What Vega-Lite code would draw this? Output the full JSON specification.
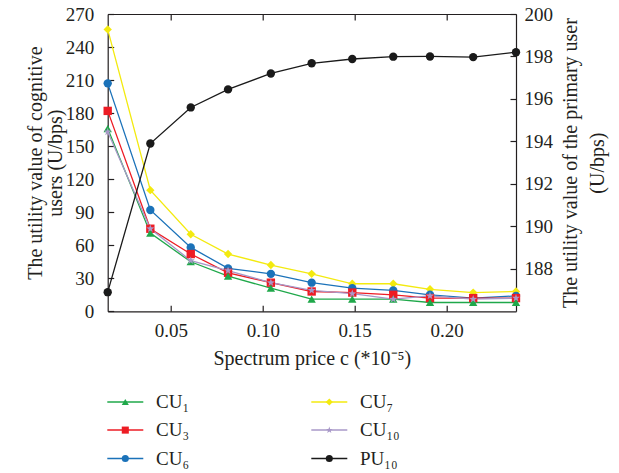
{
  "$schema": "https://vega.github.io/schema/vega-lite/v6.json",
  "width": 408.3,
  "height": 297.3,
  "autosize": {"type": "none"},
  "padding": {"left": 107.7, "top": 14, "right": 103, "bottom": 161.7},
  "background": "white",
  "config": {
    "view": {"stroke": null},
    "font": "Liberation Serif",
    "axis": {
      "grid": false,
      "domainColor": "#231f20",
      "tickColor": "#231f20",
      "domainWidth": 1.2,
      "tickWidth": 1.2,
      "tickSize": -6,
      "labelFont": "Liberation Serif",
      "labelFontSize": 19,
      "labelColor": "#231f20",
      "titleFont": "Liberation Serif",
      "titleFontSize": 20,
      "titleFontWeight": "normal",
      "titleColor": "#231f20"
    },
    "legend": {
      "labelFont": "Liberation Serif",
      "labelFontSize": 19,
      "labelColor": "#231f20",
      "padding": 0
    }
  },
  "datasets": {
    "cu": [
      {"x": 0.0156, "v": 256, "series": "CU₇"},
      {"x": 0.0388, "v": 110, "series": "CU₇"},
      {"x": 0.0608, "v": 70, "series": "CU₇"},
      {"x": 0.0811, "v": 52, "series": "CU₇"},
      {"x": 0.1044, "v": 42, "series": "CU₇"},
      {"x": 0.1266, "v": 34, "series": "CU₇"},
      {"x": 0.1487, "v": 25, "series": "CU₇"},
      {"x": 0.1710, "v": 25, "series": "CU₇"},
      {"x": 0.1910, "v": 20, "series": "CU₇"},
      {"x": 0.2145, "v": 17, "series": "CU₇"},
      {"x": 0.2378, "v": 18, "series": "CU₇"},
      {"x": 0.0156, "v": 207, "series": "CU₆"},
      {"x": 0.0388, "v": 92, "series": "CU₆"},
      {"x": 0.0608, "v": 58, "series": "CU₆"},
      {"x": 0.0811, "v": 39, "series": "CU₆"},
      {"x": 0.1044, "v": 34, "series": "CU₆"},
      {"x": 0.1266, "v": 26, "series": "CU₆"},
      {"x": 0.1487, "v": 21, "series": "CU₆"},
      {"x": 0.1710, "v": 19, "series": "CU₆"},
      {"x": 0.1910, "v": 15, "series": "CU₆"},
      {"x": 0.2145, "v": 12, "series": "CU₆"},
      {"x": 0.2378, "v": 14, "series": "CU₆"},
      {"x": 0.0156, "v": 182, "series": "CU₃"},
      {"x": 0.0388, "v": 75, "series": "CU₃"},
      {"x": 0.0608, "v": 52, "series": "CU₃"},
      {"x": 0.0811, "v": 35, "series": "CU₃"},
      {"x": 0.1044, "v": 26, "series": "CU₃"},
      {"x": 0.1266, "v": 18, "series": "CU₃"},
      {"x": 0.1487, "v": 17, "series": "CU₃"},
      {"x": 0.1710, "v": 15, "series": "CU₃"},
      {"x": 0.1910, "v": 12, "series": "CU₃"},
      {"x": 0.2145, "v": 12, "series": "CU₃"},
      {"x": 0.2378, "v": 12, "series": "CU₃"},
      {"x": 0.0156, "v": 166, "series": "CU₁"},
      {"x": 0.0388, "v": 71, "series": "CU₁"},
      {"x": 0.0608, "v": 45, "series": "CU₁"},
      {"x": 0.0811, "v": 32, "series": "CU₁"},
      {"x": 0.1044, "v": 21, "series": "CU₁"},
      {"x": 0.1266, "v": 11, "series": "CU₁"},
      {"x": 0.1487, "v": 11, "series": "CU₁"},
      {"x": 0.1710, "v": 11, "series": "CU₁"},
      {"x": 0.1910, "v": 8, "series": "CU₁"},
      {"x": 0.2145, "v": 8, "series": "CU₁"},
      {"x": 0.2378, "v": 8, "series": "CU₁"},
      {"x": 0.0156, "v": 163, "series": "CU₁₀"},
      {"x": 0.0388, "v": 75, "series": "CU₁₀"},
      {"x": 0.0608, "v": 46, "series": "CU₁₀"},
      {"x": 0.0811, "v": 37, "series": "CU₁₀"},
      {"x": 0.1044, "v": 26, "series": "CU₁₀"},
      {"x": 0.1266, "v": 19, "series": "CU₁₀"},
      {"x": 0.1487, "v": 16, "series": "CU₁₀"},
      {"x": 0.1710, "v": 11, "series": "CU₁₀"},
      {"x": 0.1910, "v": 14, "series": "CU₁₀"},
      {"x": 0.2145, "v": 11, "series": "CU₁₀"},
      {"x": 0.2378, "v": 12, "series": "CU₁₀"}
    ],
    "pu": [
      {"x": 0.0156, "v": 186.9, "series": "PU₁₀"},
      {"x": 0.0388, "v": 193.9, "series": "PU₁₀"},
      {"x": 0.0608, "v": 195.6, "series": "PU₁₀"},
      {"x": 0.0811, "v": 196.45, "series": "PU₁₀"},
      {"x": 0.1044, "v": 197.2, "series": "PU₁₀"},
      {"x": 0.1266, "v": 197.68, "series": "PU₁₀"},
      {"x": 0.1487, "v": 197.88, "series": "PU₁₀"},
      {"x": 0.1710, "v": 197.99, "series": "PU₁₀"},
      {"x": 0.1910, "v": 198.0, "series": "PU₁₀"},
      {"x": 0.2145, "v": 197.97, "series": "PU₁₀"},
      {"x": 0.2378, "v": 198.2, "series": "PU₁₀"}
    ]
  },
  "layer": [
    {
      "data": {"name": "cu"},
      "encoding": {
        "x": {
          "field": "x", "type": "quantitative",
          "scale": {"domain": [0.0156, 0.2378], "nice": false, "zero": false},
          "axis": {"orient": "bottom", "values": [0.05, 0.1, 0.15, 0.2], "format": ".2f", "labelPadding": 16, "title": "Spectrum price c (*10⁻⁵)", "titlePadding": 8}
        },
        "y": {
          "field": "v", "type": "quantitative",
          "scale": {"domain": [0, 270], "nice": false, "zero": false},
          "axis": {"orient": "left", "values": [0, 30, 60, 90, 120, 150, 180, 210, 240, 270], "labelPadding": 20, "title": ["The utility value of cognitive", "users (U/bps)"], "titleLineHeight": 20, "titleAngle": 270, "titleBaseline": "middle", "titleAlign": "center", "titleX": -72.7, "titleY": 148.6}
        }
      },
      "layer": [
        {
          "mark": {"type": "line", "strokeWidth": 1.3},
          "encoding": {
            "stroke": {
              "field": "series", "type": "nominal",
              "scale": {"domain": ["PU₁₀", "CU₁", "CU₃", "CU₆", "CU₇", "CU₁₀"], "range": ["#1a1a1a", "#1fa84a", "#ed1c24", "#1b72b9", "#f3ea0f", "#a898c8"]},
              "legend": {"orient": "none", "legendX": 8.1, "legendY": 378.2, "columns": 2, "values": ["CU₁", "CU₃", "CU₆", "CU₇", "CU₁₀", "PU₁₀"], "symbolType": "M-2.25,0H2.25", "symbolSize": 256, "symbolStrokeWidth": 1.5, "labelOffset": 21.2, "rowPadding": 8.4, "columnPadding": 118, "title": null}
            }
          }
        },
        {
          "mark": {"type": "point", "filled": true, "size": 70, "opacity": 1},
          "encoding": {
            "fill": {
              "field": "series", "type": "nominal",
              "scale": {"domain": ["CU₁", "CU₃", "CU₆", "CU₇", "CU₁₀", "PU₁₀"], "range": ["#1fa84a", "#ed1c24", "#1b72b9", "#f3ea0f", "#a898c8", "#1a1a1a"]},
              "legend": {"orient": "none", "legendX": 8.1, "legendY": 378.2, "columns": 2, "symbolSize": 50, "symbolStrokeWidth": 0, "labelOffset": 21.2, "labelOpacity": 0, "rowPadding": 8.4, "columnPadding": 130, "title": null}
            },
            "shape": {
              "field": "series", "type": "nominal",
              "scale": {"domain": ["CU₁", "CU₃", "CU₆", "CU₇", "CU₁₀", "PU₁₀"], "range": ["triangle-up", "square", "circle", "diamond", "M0,-1L0.235,-0.324L0.951,-0.309L0.38,0.124L0.588,0.809L0,0.4L-0.588,0.809L-0.38,0.124L-0.951,-0.309L-0.235,-0.324Z", "circle"]},
              "legend": {"orient": "none", "legendX": 8.1, "legendY": 378.2, "columns": 2, "symbolSize": 50, "symbolStrokeWidth": 0, "labelOffset": 21.2, "labelOpacity": 0, "rowPadding": 8.4, "columnPadding": 130, "title": null}
            }
          }
        }
      ]
    },
    {
      "data": {"name": "pu"},
      "encoding": {
        "x": {
          "field": "x", "type": "quantitative",
          "scale": {"domain": [0.0156, 0.2378], "nice": false, "zero": false},
          "axis": {"orient": "top", "values": [0.05, 0.1, 0.15, 0.2], "labels": false, "title": null}
        },
        "y": {
          "field": "v", "type": "quantitative",
          "scale": {"domain": [186, 200], "nice": false, "zero": false},
          "axis": {"orient": "right", "values": [188, 190, 192, 194, 196, 198, 200], "labelPadding": 14, "title": ["The utility value of the primary user", "(U/bps)"], "titleAngle": 270, "titleBaseline": "middle", "titleAlign": "center", "titleLineHeight": 27, "titleX": 54, "titleY": 148.6}
        }
      },
      "layer": [
        {
          "mark": {"type": "line", "strokeWidth": 1.3},
          "encoding": {
            "stroke": {
              "field": "series", "type": "nominal",
              "legend": {"orient": "none", "legendX": 8.1, "legendY": 378.2, "columns": 2, "values": ["CU₁", "CU₃", "CU₆", "CU₇", "CU₁₀", "PU₁₀"], "symbolType": "M-2.25,0H2.25", "symbolSize": 256, "symbolStrokeWidth": 1.5, "labelOffset": 21.2, "rowPadding": 8.4, "columnPadding": 118, "title": null}
            }
          }
        },
        {
          "mark": {"type": "point", "filled": true, "size": 70, "opacity": 1},
          "encoding": {
            "fill": {"field": "series", "type": "nominal"},
            "shape": {"field": "series", "type": "nominal"}
          }
        }
      ]
    }
  ],
  "resolve": {"scale": {"y": "independent"}}
}
